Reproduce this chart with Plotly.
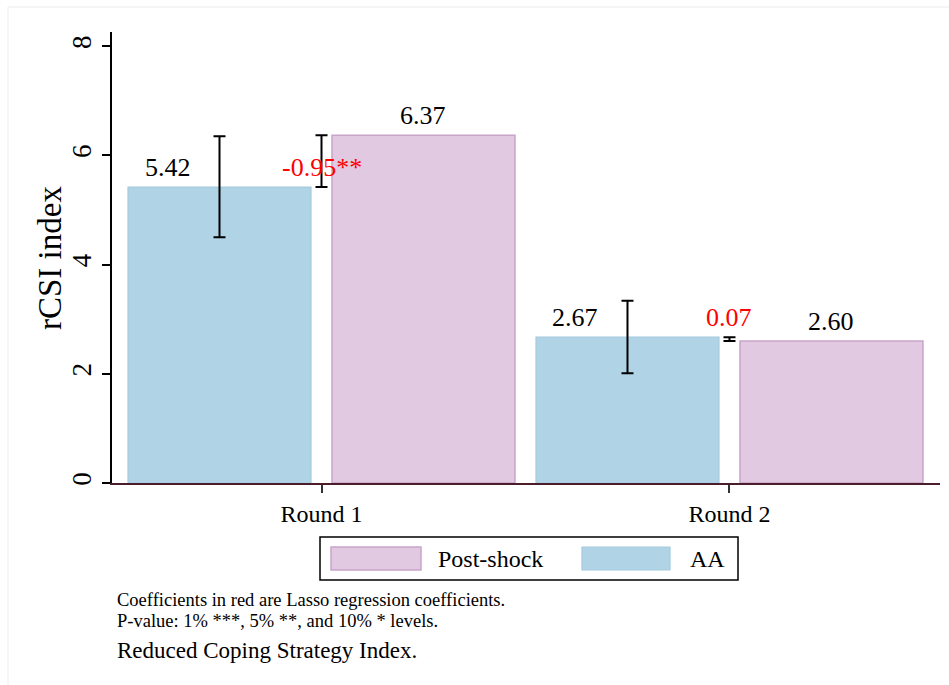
import plotly.graph_objects as go

# ---- data ----
categories = ["Round 1", "Round 2"]
aa_values = [5.42, 2.67]
post_values = [6.37, 2.60]
aa_ci_low = [4.50, 2.01]
aa_ci_high = [6.35, 3.34]
lasso_coef = [-0.95, 0.07]
coef_stars = ["**", ""]
y_ticks = [0, 2, 4, 6, 8]

series_names = ["AA", "Post-shock"]
footnote_lines = [
    "Coefficients in red are Lasso regression coefficients.",
    "P-value: 1% ***, 5% **, and 10% * levels.",
]
caption = "Reduced Coping Strategy Index."

# ---- style ----
FONT = "Liberation Serif, Times New Roman, serif"
AA_FILL, AA_EDGE = "#b1d3e6", "#a3cbe0"
PS_FILL, PS_EDGE = "#e1cae1", "#c9a4c9"
W, H = 949, 685
PL, PR, PT, PB = 112, 940, 32, 483  # plot area in pixels


def px_x(px):
    return (px - PL) / (PR - PL)


def px_y(py):
    return (PB - py) / (PB - PT)


# bar slots: AA at 2g, Post-shock at 2g+1, group tick in between
aa_pos = [2 * g for g in range(len(categories))]
ps_pos = [2 * g + 1 for g in range(len(categories))]
tick_pos = [2 * g + 0.5 for g in range(len(categories))]

fig = go.Figure()

fig.add_trace(go.Bar(
    x=aa_pos, y=aa_values, name=series_names[0], width=0.897,
    marker=dict(color=AA_FILL, line=dict(color=AA_EDGE, width=1.2)),
    error_y=dict(type="data", symmetric=False,
                 array=[h - v for h, v in zip(aa_ci_high, aa_values)],
                 arrayminus=[v - l for v, l in zip(aa_values, aa_ci_low)],
                 color="black", thickness=2, width=6),
    showlegend=False,
))
fig.add_trace(go.Bar(
    x=ps_pos, y=post_values, name=series_names[1], width=0.897,
    marker=dict(color=PS_FILL, line=dict(color=PS_EDGE, width=1.5)),
    showlegend=False,
))

# difference bar between the two bars of each round
fig.add_trace(go.Scatter(
    x=tick_pos, y=aa_values, mode="markers",
    marker=dict(size=1, color="rgba(0,0,0,0)"),
    error_y=dict(type="data", symmetric=False,
                 array=[max(p - a, 0) for a, p in zip(aa_values, post_values)],
                 arrayminus=[max(a - p, 0) for a, p in zip(aa_values, post_values)],
                 color="black", thickness=2, width=6),
    showlegend=False, hoverinfo="skip",
))

annotations = []
for g in range(len(categories)):
    annotations.append(dict(
        x=aa_pos[g], y=aa_values[g], xref="x", yref="y",
        text=f"{aa_values[g]:.2f}", showarrow=False, xshift=-52, yshift=3,
        yanchor="bottom", font=dict(family=FONT, size=26, color="black")))
    annotations.append(dict(
        x=ps_pos[g], y=post_values[g], xref="x", yref="y",
        text=f"{post_values[g]:.2f}", showarrow=False, yshift=3,
        yanchor="bottom", font=dict(family=FONT, size=26, color="black")))
    annotations.append(dict(
        x=tick_pos[g], y=aa_values[g], xref="x", yref="y",
        text=f"{lasso_coef[g]:.2f}{coef_stars[g]}", showarrow=False, yshift=3,
        yanchor="bottom", font=dict(family=FONT, size=26, color="#ff0000")))

# y-axis title
annotations.append(dict(
    x=px_x(50), y=px_y(258), xref="paper", yref="paper", text="rCSI index",
    textangle=-90, showarrow=False, xanchor="center", yanchor="middle",
    font=dict(family=FONT, size=33, color="black")))

# legend box contents
legend_top, legend_bot = 537, 580
legend_mid = (legend_top + legend_bot) / 2
shapes = [
    dict(type="rect", xref="paper", yref="paper",
         x0=px_x(320), x1=px_x(738), y0=px_y(legend_bot), y1=px_y(legend_top),
         line=dict(color="black", width=1.5), fillcolor="white"),
    dict(type="rect", xref="paper", yref="paper",
         x0=px_x(331), x1=px_x(421), y0=px_y(570), y1=px_y(547),
         line=dict(color=PS_EDGE, width=1.5), fillcolor=PS_FILL),
    dict(type="rect", xref="paper", yref="paper",
         x0=px_x(582), x1=px_x(670), y0=px_y(570), y1=px_y(547),
         line=dict(color=AA_EDGE, width=1.2), fillcolor=AA_FILL),
    # faint outer frame
    dict(type="line", xref="paper", yref="paper",
         x0=px_x(8), x1=px_x(949), y0=px_y(7), y1=px_y(7),
         line=dict(color="#ececec", width=1)),
    dict(type="line", xref="paper", yref="paper",
         x0=px_x(8), x1=px_x(8), y0=px_y(7), y1=px_y(685),
         line=dict(color="#ececec", width=1)),
]
annotations.append(dict(
    x=px_x(436), y=px_y(legend_mid), xref="paper", yref="paper",
    text=series_names[1], showarrow=False, xanchor="left", yanchor="middle",
    font=dict(family=FONT, size=24, color="black")))
annotations.append(dict(
    x=px_x(688), y=px_y(legend_mid), xref="paper", yref="paper",
    text=series_names[0], showarrow=False, xanchor="left", yanchor="middle",
    font=dict(family=FONT, size=24, color="black")))

# notes below the chart
for line, py in zip(footnote_lines, [600, 621]):
    annotations.append(dict(
        x=px_x(116), y=px_y(py), xref="paper", yref="paper", text=line,
        showarrow=False, xanchor="left", yanchor="middle", borderpad=0,
        font=dict(family=FONT, size=18.5, color="black")))
annotations.append(dict(
    x=px_x(116), y=px_y(650), xref="paper", yref="paper", text=caption,
    showarrow=False, xanchor="left", yanchor="middle", borderpad=0,
    font=dict(family=FONT, size=23, color="black")))

fig.update_layout(
    width=W, height=H,
    margin=dict(l=PL, r=W - PR, t=PT, b=H - PB, pad=0),
    paper_bgcolor="white", plot_bgcolor="white",
    barmode="overlay",
    font=dict(family=FONT, color="black"),
    annotations=annotations, shapes=shapes,
    xaxis=dict(
        range=[-0.527, 3.532], tickmode="array", tickvals=tick_pos,
        ticktext=categories, ticks="outside", ticklen=8, tickwidth=1.5,
        tickcolor="#333333", showline=True, linecolor="#4b1d2b", linewidth=1.5,
        showgrid=False, zeroline=False, tickfont=dict(family=FONT, size=24),
        fixedrange=True,
    ),
    yaxis=dict(
        range=[0, (PB - PT) / 54.6], tickmode="array", tickvals=y_ticks,
        ticks="outside", ticklen=8, tickwidth=1.5, tickcolor="black",
        tickangle=-90, showline=True, linecolor="black", linewidth=1.5,
        showgrid=False, zeroline=False, tickfont=dict(family=FONT, size=27),
        fixedrange=True,
    ),
)

fig.write_html("out.html")
